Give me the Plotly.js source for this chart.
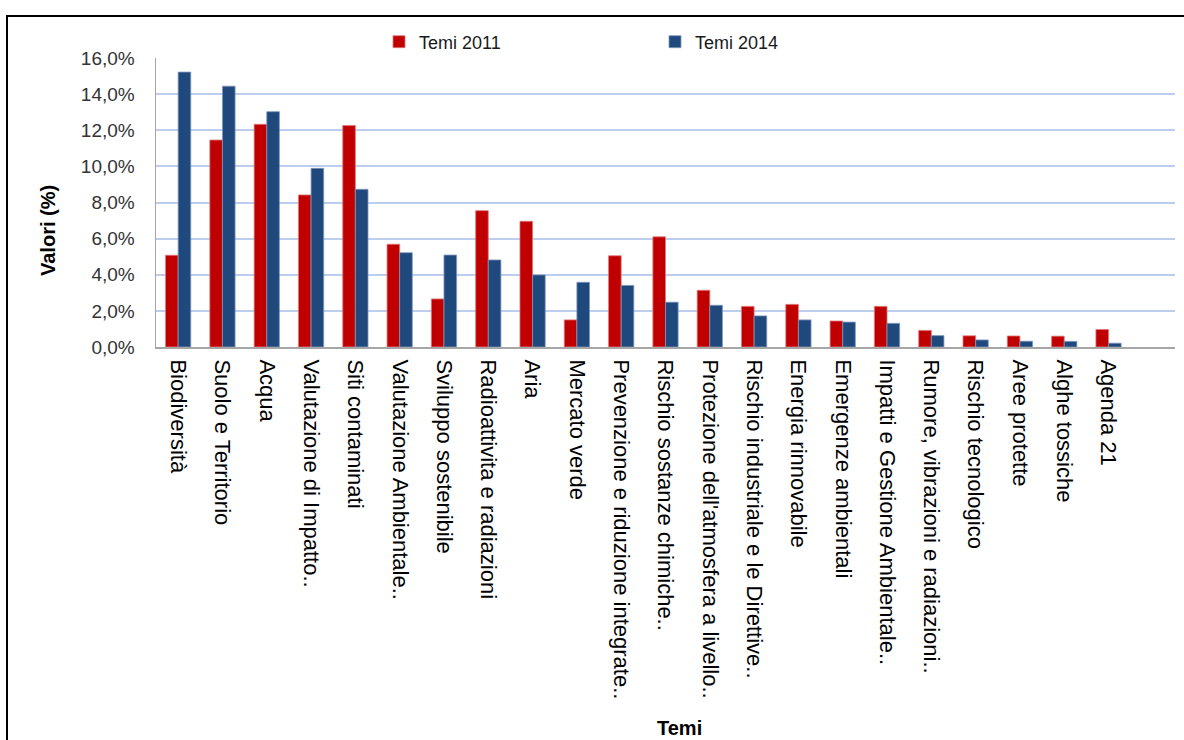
<!DOCTYPE html>
<html>
<head>
<meta charset="utf-8">
<script src="https://cdn.plot.ly/plotly-3.0.1.min.js"></script>
<style>
  html, body { margin: 0; padding: 0; background: #fff; overflow: hidden; }
  #chart { position: absolute; left: 0; top: 0; width: 1184px; height: 740px; }
  #frame {
    position: absolute; left: 6px; top: 15px; width: 1300px; height: 900px;
    border: 2px solid #000; pointer-events: none; box-sizing: border-box;
  }
</style>
</head>
<body>
<div id="chart"></div>
<div id="frame"></div>
<script>
// Environmental themes, share of total (%)
const temi = [
  "Biodiversità",
  "Suolo e Territorio",
  "Acqua",
  "Valutazione di Impatto..",
  "Siti contaminati",
  "Valutazione Ambientale..",
  "Sviluppo sostenibile",
  "Radioattivita e radiazioni",
  "Aria",
  "Mercato verde",
  "Prevenzione e riduzione integrate..",
  "Rischio sostanze chimiche..",
  "Protezione dell'atmosfera a livello..",
  "Rischio industriale e le Direttive..",
  "Energia rinnovabile",
  "Emergenze ambientali",
  "Impatti e Gestione Ambientale..",
  "Rumore, vibrazioni e radiazioni..",
  "Rischio tecnologico",
  "Aree protette",
  "Alghe tossiche",
  "Agenda 21"
];

const temi2011 = [5.08, 11.46, 12.33, 8.42, 12.26, 5.69, 2.66, 7.55, 6.96, 1.50,
                  5.05, 6.10, 3.14, 2.25, 2.36, 1.44, 2.25, 0.92, 0.62, 0.61, 0.60, 0.97];
const temi2014 = [15.22, 14.44, 13.03, 9.89, 8.73, 5.22, 5.09, 4.82, 3.99, 3.58,
                  3.41, 2.48, 2.31, 1.72, 1.50, 1.38, 1.31, 0.63, 0.39, 0.32, 0.31, 0.21];

const seriesNames = ["Temi 2011", "Temi 2014"];
const yTickVals = [0, 2, 4, 6, 8, 10, 12, 14, 16];
const yTickText = ["0,0%", "2,0%", "4,0%", "6,0%", "8,0%", "10,0%", "12,0%", "14,0%", "16,0%"];

const baseFont = "Liberation Sans, Arial, sans-serif";

const traces = [
  {
    type: "bar",
    name: seriesNames[0],
    x: temi,
    y: temi2011,
    marker: { color: "#c00000", line: { color: "#e07a7a", width: 0.8 } },
    hoverinfo: "x+y+name"
  },
  {
    type: "bar",
    name: seriesNames[1],
    x: temi,
    y: temi2014,
    marker: { color: "#1f497d", line: { color: "#7d97bd", width: 0.8 } },
    hoverinfo: "x+y+name"
  }
];

const layout = {
  width: 1184,
  height: 740,
  margin: { l: 156, r: 9, t: 58, b: 393, pad: 0 },
  paper_bgcolor: "#ffffff",
  plot_bgcolor: "#ffffff",
  barmode: "group",
  bargap: 0.43,
  bargroupgap: 0,
  font: { family: baseFont, color: "#000" },
  showlegend: true,
  legend: {
    orientation: "h",
    x: (379 - 156) / 1019,
    xanchor: "left",
    y: (347 - 42) / 289,
    yanchor: "middle",
    entrywidth: 231,
    bgcolor: "rgba(0,0,0,0)",
    font: { family: baseFont, size: 18, color: "#1a1a1a" },
    traceorder: "normal"
  },
  xaxis: {
    type: "category",
    range: [-0.5, 22.5],
    tickangle: 90,
    ticks: "",
    ticklabelstandoff: 6,
    tickfont: { family: baseFont, size: 22, color: "#000" },
    showgrid: false,
    showline: true,
    linecolor: "#a6a6a6",
    linewidth: 2,
    zeroline: false,
    fixedrange: true
  },
  yaxis: {
    range: [0, 16],
    tickvals: yTickVals,
    ticktext: yTickText,
    ticks: "",
    ticklabelstandoff: 16,
    tickfont: { family: baseFont, size: 19, color: "#333" },
    showgrid: true,
    gridcolor: "#bccdee",
    gridwidth: 2,
    showline: true,
    linecolor: "#a6a6a6",
    linewidth: 1.5,
    zeroline: false,
    fixedrange: true
  },
  annotations: [
    {
      text: "Valori (%)",
      xref: "paper", yref: "paper",
      x: (48 - 156) / 1019, y: (347 - 231) / 289,
      xanchor: "center", yanchor: "middle",
      textangle: -90,
      showarrow: false,
      font: { family: baseFont, size: 20, color: "#000", weight: "bold" }
    },
    {
      text: "Temi",
      xref: "paper", yref: "paper",
      x: (679 - 156) / 1019, y: (347 - 728) / 289,
      xanchor: "center", yanchor: "middle",
      showarrow: false,
      font: { family: baseFont, size: 20, color: "#000", weight: "bold" }
    }
  ]
};

Plotly.newPlot("chart", traces, layout, { displayModeBar: false, staticPlot: true });
</script>
</body>
</html>
